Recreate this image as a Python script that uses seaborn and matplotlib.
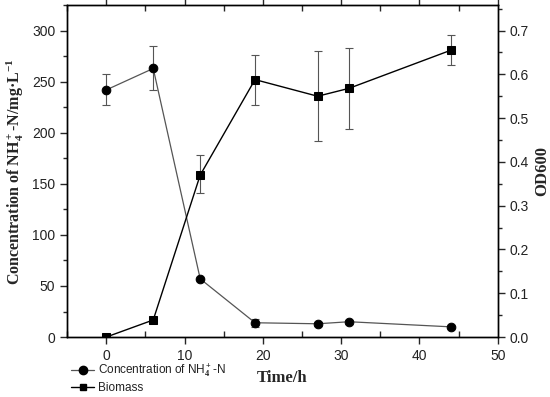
import numpy as np
import pandas as pd
import matplotlib
matplotlib.use('Agg')
import matplotlib.pyplot as plt
import seaborn as sns
from matplotlib.ticker import MultipleLocator
from matplotlib.lines import Line2D

sns.set_style('ticks')
plt.rcParams['mathtext.fontset'] = 'custom'
plt.rcParams['mathtext.rm'] = 'Liberation Serif:bold'
plt.rcParams['mathtext.it'] = 'Liberation Serif:bold'
plt.rcParams['mathtext.bf'] = 'Liberation Serif:bold'

# data
time_nh4 = [0, 6, 12, 19, 27, 31, 44]
nh4 = [242, 263, 57, 14, 13, 15, 10]
nh4_lo = [227, 242, 57, 10, 11, 13, 9]
nh4_hi = [258, 285, 57, 18, 15, 17, 11]

time_bio = [0, 6, 12, 19, 27, 31, 44]
od600 = [0.0, 0.039, 0.37, 0.588, 0.55, 0.568, 0.655]
od_lo = [0.0, 0.039, 0.328, 0.53, 0.448, 0.475, 0.622]
od_hi = [0.0, 0.039, 0.416, 0.645, 0.653, 0.661, 0.69]

nh4_df = pd.DataFrame({'t': time_nh4, 'v': nh4})
bio_df = pd.DataFrame({'t': time_bio, 'v': od600})

fig = plt.figure(figsize=(5.5, 3.97), dpi=100)
ax = fig.add_axes([0.122, 0.151, 0.783, 0.836])
ax2 = ax.twinx()

sans = ['Liberation Sans', 'DejaVu Sans']
serif = ['Liberation Serif', 'DejaVu Serif']

# NH4 on the left axis
ax.errorbar(time_nh4, nh4,
            yerr=[np.subtract(nh4, nh4_lo), np.subtract(nh4_hi, nh4)],
            fmt='none', ecolor='#555555', elinewidth=0.8, capsize=2.7, capthick=0.8, zorder=2)
sns.lineplot(data=nh4_df, x='t', y='v', ax=ax, color='#555555', lw=0.9,
             marker='o', markersize=6.2, markerfacecolor='black', markeredgecolor='black',
             zorder=3, legend=False)

# biomass on the right axis
ax2.errorbar(time_bio, od600,
             yerr=[np.subtract(od600, od_lo), np.subtract(od_hi, od600)],
             fmt='none', ecolor='#555555', elinewidth=0.8, capsize=2.7, capthick=0.8, zorder=2)
sns.lineplot(data=bio_df, x='t', y='v', ax=ax2, color='black', lw=1.0,
             marker='s', markersize=5.3, markerfacecolor='black', markeredgecolor='black',
             zorder=3, legend=False)

ax.set_xlim(-5, 50)
ax.set_ylim(0, 325)
ax2.set_ylim(0, 0.758)

ax.xaxis.set_major_locator(MultipleLocator(10))
ax.xaxis.set_minor_locator(MultipleLocator(5))
ax.yaxis.set_major_locator(MultipleLocator(50))
ax.yaxis.set_minor_locator(MultipleLocator(25))
ax2.yaxis.set_major_locator(MultipleLocator(0.1))
ax2.yaxis.set_minor_locator(MultipleLocator(0.05))
ax2.yaxis.set_major_formatter(matplotlib.ticker.FormatStrFormatter('%.1f'))

for a in (ax, ax2):
    for s in a.spines.values():
        s.set_visible(True)
        s.set_linewidth(1.0)
        s.set_color('black')

ax.tick_params(axis='x', which='major', direction='out', length=5, width=1, top=True)
ax.tick_params(axis='x', which='minor', direction='in', length=4, width=1, top=True)
ax.tick_params(axis='y', which='both', direction='out', width=1, labelsize=10)
ax.tick_params(axis='y', which='major', length=5)
ax.tick_params(axis='y', which='minor', length=3)
ax2.tick_params(axis='y', which='both', direction='out', width=1, labelsize=10)
ax2.tick_params(axis='y', which='major', length=5)
ax2.tick_params(axis='y', which='minor', length=3)
ax.tick_params(axis='x', labelsize=10)

for lab in ax.get_xticklabels() + ax.get_yticklabels() + ax2.get_yticklabels():
    lab.set_family(sans)
    lab.set_color('#222222')

ax.set_xlabel('Time/h', family=serif, fontweight='bold', fontsize=12, labelpad=5)
ax.set_ylabel('Concentration of NH$_4^+$-N/mg·L$^{-1}$', family=serif,
              fontweight='bold', fontsize=11.5, labelpad=4)
ax2.set_ylabel('OD600', family=serif, fontweight='bold', fontsize=12, labelpad=4)

handles = [
    Line2D([], [], color='#555555', lw=0.9, marker='o', markersize=6,
           markerfacecolor='black', markeredgecolor='black'),
    Line2D([], [], color='black', lw=1.0, marker='s', markersize=5,
           markerfacecolor='black', markeredgecolor='black'),
]
leg = fig.legend(handles, ['Concentration of NH$_4^+$-N', 'Biomass'],
                 loc='upper left', bbox_to_anchor=(0.118, 0.1), frameon=False,
                 prop={'family': sans, 'size': 8.5}, handlelength=2.0,
                 handletextpad=0.3, labelspacing=0.2, borderpad=0)
for t in leg.get_texts():
    t.set_color('#222222')

fig.savefig('out.png', dpi=100)
